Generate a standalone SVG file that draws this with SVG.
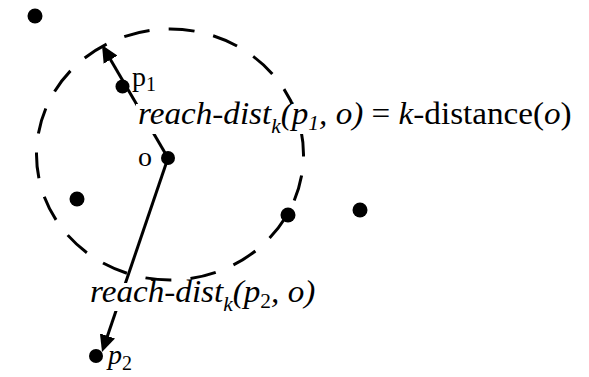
<svg xmlns="http://www.w3.org/2000/svg" width="589" height="377" viewBox="0 0 589 377">
<style>
.dot{fill:#000}
.ln{stroke:#000;stroke-width:3;fill:none}
.circ{stroke:#000;stroke-width:3;fill:none;stroke-dasharray:26 19.2;stroke-dashoffset:24}
.t{font-family:"Liberation Serif","Times New Roman",serif;font-size:31px;fill:#000}
.i{font-style:italic}
.s{font-size:20px}
.bg{fill:#fff}
</style>
<defs>
<marker id="ah" viewBox="0 0 17 16" refX="13" refY="8" markerWidth="17" markerHeight="16" markerUnits="userSpaceOnUse" orient="auto">
<path d="M0,0 L17,8 L0,16 z" fill="#000"/>
</marker>
</defs>
<rect width="589" height="377" fill="#fff"/>
<g id="neighborhood">
<ellipse class="circ" cx="170" cy="154.5" rx="133.5" ry="125.5"/>
</g>
<g id="connectors">
<line class="ln" x1="168" y1="158" x2="104" y2="48.5" marker-end="url(#ah)"/>
<line class="ln" x1="168" y1="158" x2="103.3" y2="348.2" marker-end="url(#ah)"/>
</g>
<g id="labels-bg">
<rect class="bg" x="136" y="104" width="440" height="30"/>
<rect class="bg" x="88" y="283" width="228" height="28"/>
</g>
<g id="point-o">
<circle class="dot" cx="168" cy="158" r="7"/>
<text class="t" x="138" y="166" font-size="28px" style="font-size:28px">o</text>
</g>
<g id="point-p1">
<circle class="dot" cx="122.5" cy="86.5" r="7"/>
<text class="t" x="132" y="86" style="font-size:28px">p<tspan class="s" dy="5" style="font-size:20px">1</tspan></text>
</g>
<g id="point-p2">
<circle class="dot" cx="96" cy="356" r="7"/>
<text class="t i" x="108" y="364" style="font-size:28px">p<tspan class="s" dy="6" style="font-size:20px;font-style:normal">2</tspan></text>
</g>
<g id="point-a"><circle class="dot" cx="35" cy="16" r="7.5"/></g>
<g id="point-b"><circle class="dot" cx="77" cy="199" r="7.5"/></g>
<g id="point-c"><circle class="dot" cx="288" cy="215" r="7.5"/></g>
<g id="point-d"><circle class="dot" cx="360" cy="210" r="7.5"/></g>
<g id="label-top">
<text class="t" transform="translate(138,124) scale(1.07,1)"><tspan class="i">reach-dist</tspan><tspan class="i s" dy="9">k</tspan><tspan class="i" dy="-9">(p</tspan><tspan class="i s" dy="6">1</tspan><tspan class="i" dy="-6">, o)</tspan><tspan> = </tspan><tspan class="i">k</tspan><tspan>-distance(</tspan><tspan class="i">o</tspan><tspan>)</tspan></text>
</g>
<g id="label-bottom">
<text class="t" transform="translate(90,302) scale(1.07,1)"><tspan class="i">reach-dist</tspan><tspan class="i s" dy="9">k</tspan><tspan class="i" dy="-9">(p</tspan><tspan class="s" dy="6">2</tspan><tspan class="i" dy="-6">, o)</tspan></text>
</g>
</svg>
